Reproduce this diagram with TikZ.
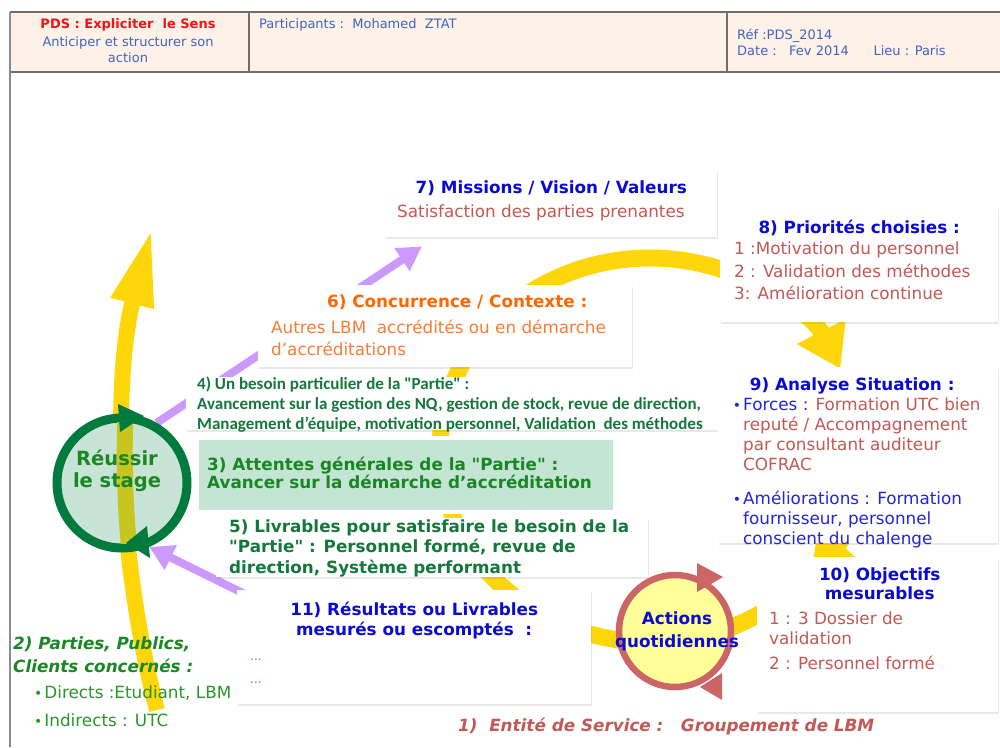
\documentclass[tikz,border=0pt]{standalone}
\usepackage{fontspec}
\setmainfont{DejaVu Sans}[Ligatures=TeXOff]
\newfontfamily\calib{Carlito}
\usetikzlibrary{positioning,arrows.meta,shadows,calc}

\definecolor{hdrfill}{RGB}{253,241,232}
\definecolor{hdrline}{RGB}{110,110,110}
\definecolor{hdrblue}{RGB}{64,100,190}
\definecolor{hdrred}{RGB}{240,20,20}
\definecolor{blueT}{RGB}{10,10,210}
\definecolor{blueB}{RGB}{35,35,225}
\definecolor{rose}{RGB}{195,88,84}
\definecolor{orangeT}{RGB}{255,102,0}
\definecolor{orangeB}{RGB}{245,125,55}
\definecolor{greenD}{RGB}{20,120,60}
\definecolor{greenM}{RGB}{25,135,35}
\definecolor{greenL}{RGB}{40,150,40}
\definecolor{attfill}{RGB}{196,228,212}
\definecolor{ringgreen}{RGB}{0,122,61}
\definecolor{stagefill}{RGB}{200,228,214}
\definecolor{bandolive}{RGB}{200,198,30}
\definecolor{gold}{RGB}{255,214,10}
\definecolor{lilac}{RGB}{204,153,255}
\definecolor{actred}{RGB}{204,102,102}
\definecolor{actfill}{RGB}{255,255,153}

\newcommand{\bull}{{\fontsize{14}{14}\selectfont •}\hspace{2pt}}
\newcommand{\stagepath}{(157,710) .. controls (118,560) and (112,380) .. (152,228)}

\pgfdeclarelayer{bg}
\pgfdeclarelayer{back}
\pgfsetlayers{bg,back,main}

\tikzset{
  card/.style={fill=white, anchor=north west, inner sep=0pt,
    drop shadow={shadow xshift=1pt,shadow yshift=-2pt,opacity=.18}},
  ttl/.style={font=\bfseries\fontsize{16.8}{20}\selectfont, text=blueT, inner sep=0pt, align=center, anchor=north},
  txt/.style={font=\fontsize{16.8}{20}\selectfont, inner sep=0pt, align=left, anchor=north west},
  hdr/.style={font=\fontsize{13}{16}\selectfont, text=hdrblue, inner sep=0pt},
  lilacarrow/.style={draw=lilac, line width=8pt, -{Triangle[length=24pt,width=26pt]}},
  ringarrow/.style={draw=gold, line width=17pt, -{Triangle[length=42pt,width=52pt]}},
  stagearrow/.style={draw=gold, line width=16pt, -{Triangle[length=78pt,width=40pt]}},
}

\begin{document}
\begin{tikzpicture}[x=1pt,y=-1pt]
\useasboundingbox (0,0) rectangle (1000,747);
\begin{pgfonlayer}{bg}
  \fill[white] (0,0) rectangle (1000,747);
\end{pgfonlayer}

% header
\fill[hdrfill] (10,12) rectangle (1000,72);
\draw[hdrline, line width=1.2pt] (10,12) -- (1000,12);
\draw[hdrline, line width=2pt] (10,72) -- (1000,72);
\draw[hdrline, line width=1.2pt] (249,12) -- (249,72);
\draw[hdrline, line width=1.2pt] (727,12) -- (727,72);
\draw[hdrline!80, line width=2pt] (10,12) -- (10,747);
\node[hdr, font=\bfseries\fontsize{13}{16}\selectfont, text=hdrred] (pds) at (128,25) {PDS : Expliciter\ \ le Sens};
\node[hdr, align=center] (antic) at (128,50) {Anticiper et structurer son\\action};
\node[hdr, anchor=west] (partic) at (259,25) {Participants :\ \ Mohamed\ \ ZTAT};
\node[hdr, anchor=west, align=left] (refdate) at (737,42) {Réf :PDS\_2014\\Date :\ \ \ Fev 2014\ \ \ \ \ \ Lieu : Paris};

% cards
\node[card, minimum width=332pt, minimum height=67pt] (box7) at (385,170) {};
\node[card, minimum width=374pt, minimum height=82pt] (box6) at (258,285) {};
\node[card, minimum width=278pt, minimum height=115pt] (box8) at (720,207) {};
\node[card, minimum width=532pt, minimum height=53pt] (box4) at (186,377) {};
\node[card, fill=attfill, draw=white, line width=4pt, minimum width=418pt, minimum height=74pt] (box3) at (195,436) {};
\node[card, minimum width=432pt, minimum height=59pt] (box5) at (216,518) {};
\node[card, minimum width=280pt, minimum height=176pt] (box9) at (718,367) {};
\node[card, minimum width=241pt, minimum height=155pt] (box10) at (757,557) {};
\node[card, minimum width=354pt, minimum height=114pt] (box11) at (237,590) {};

% arrows behind the cards
\begin{pgfonlayer}{back}
  \coordinate (ringc) at (650,450);
%  \draw[gold, line width=17pt] (ringc) ellipse [x radius=210, y radius=192];
  \draw[ringarrow] (ringc) ++(42:210 and 192) arc[start angle=42, end angle=335, x radius=210, y radius=192];
  \draw[ringarrow] (ringc) ++(340:210 and 192) arc[start angle=340, end angle=400, x radius=210, y radius=192];
  \draw[stagearrow] \stagepath;
\end{pgfonlayer}

% texts
\node[ttl, below=11pt of box7.north] (t7) {7) Missions / Vision / Valeurs};
\node[txt, text=rose, below right=35pt and 12pt of box7.north west] (b7) {Satisfaction des parties prenantes};

\node[ttl, below=13pt of box8.north] (t8) {8) Priorités choisies :};
\node[txt, text=rose, font=\fontsize{16.8}{22.5}\selectfont, below right=35pt and 14pt of box8.north west] (b8)
  {1 :Motivation du personnel\\2 : Validation des méthodes\\3: Amélioration continue};

\node[ttl, text=orangeT, below=10pt of box6.north, xshift=12pt] (t6) {6) Concurrence / Contexte :};
\node[txt, text=orangeB, font=\fontsize{16.8}{22}\selectfont, below right=35pt and 13pt of box6.north west] (b6)
  {Autres LBM\ \ accrédités ou en démarche\\d’accréditations};

\node[txt, text=greenD, font=\calib\bfseries\fontsize{17}{20}\selectfont, below right=0pt and 11pt of box4.north west] (b4)
  {4) Un besoin particulier de la "Partie" :\\Avancement sur la gestion des NQ, gestion de stock, revue de direction,\\Management d’équipe, motivation personnel, Validation\ \ des méthodes};

\node[txt, text=greenM, font=\bfseries\fontsize{16.8}{16}\selectfont, below right=21pt and 12pt of box3.north west] (b3)
  {3) Attentes générales de la "Partie" :\\Avancer sur la démarche d’accréditation};

\node[txt, text=greenD, font=\bfseries\fontsize{16.8}{20.5}\selectfont, below right=1.5pt and 13pt of box5.north west] (b5)
  {5) Livrables pour satisfaire le besoin de la\\"Partie" : Personnel formé, revue de\\direction, Système performant};

\node[ttl, below=11pt of box9.north, xshift=-6pt] (t9) {9) Analyse Situation :};
\node[txt, text=blueB, below right=31pt and 25pt of box9.north west] (b9)
  {\llap{\bull}Forces : \textcolor{rose}{Formation UTC bien}\\\textcolor{rose}{reputé / Accompagnement}\\\textcolor{rose}{par consultant auditeur}\\\textcolor{rose}{COFRAC}\\[14pt]\llap{\bull}Améliorations : Formation\\fournisseur, personnel\\conscient du chalenge};

\node[ttl, font=\bfseries\fontsize{16.8}{19}\selectfont, below=11pt of box10.north, xshift=2pt] (t10) {10) Objectifs\\mesurables};
\node[txt, text=rose, below right=55pt and 12pt of box10.north west] (b10)
  {1 : 3 Dossier de\\validation\\[5pt]2 : Personnel formé};

\node[ttl, below=12pt of box11.north] (t11) {11) Résultats ou Livrables\\mesurés ou escomptés\ \ :};
\node[anchor=base west, text=rose, font=\fontsize{12}{12}\selectfont, inner sep=0pt] (dots1) at ([xshift=13pt,yshift=-70pt]box11.north west) {...};
\node[anchor=base west, text=rose, font=\fontsize{12}{12}\selectfont, inner sep=0pt] (dots2) at ([xshift=13pt,yshift=-93pt]box11.north west) {...};

% Reussir le stage
\node[circle, draw=ringgreen, line width=9pt, fill=stagefill, minimum size=130pt, inner sep=0pt] (reussir) at (122,483) {};
\begin{scope}
  \clip (reussir.center) circle[radius=61pt];
  \draw[bandolive, line width=16pt] \stagepath;
\end{scope}
\node[font=\bfseries\fontsize{19.5}{22}\selectfont, text=greenM, align=center, inner sep=0pt] (reussirtxt)
  at ([xshift=-5pt,yshift=12pt]reussir.center) {Réussir\\le stage};
\fill[ringgreen] ($(reussir.center)+(-4,-79)$) -- ($(reussir.center)+(22,-67)$) -- ($(reussir.center)+(-2,-51)$) -- cycle;
\fill[ringgreen] ($(reussir.center)+(25,43)$) -- ($(reussir.center)+(28,75)$) -- ($(reussir.center)+(4,60)$) -- cycle;

% Actions quotidiennes
\node[circle, draw=actred, line width=6.5pt, fill=actfill, minimum size=112pt, inner sep=0pt] (actions) at (675,631) {};
\node[ttl, font=\bfseries\fontsize{16.8}{23}\selectfont, anchor=center, xshift=2pt] (actionstxt) at (actions.center) {Actions\\quotidiennes};
\fill[actred] ($(actions.center)+(22,-68)$) -- ($(actions.center)+(48,-54)$) -- ($(actions.center)+(22,-39)$) -- cycle;
\fill[actred] ($(actions.center)+(25,56)$) -- ($(actions.center)+(47,42)$) -- ($(actions.center)+(47,69)$) -- cycle;

% lilac connectors
\begin{pgfonlayer}{back}
  \coordinate (tip7) at ([xshift=37pt,yshift=-9pt]box7.south west);
  \coordinate (from11) at ([xshift=20pt,yshift=-10pt]box11.north west);
  \draw[lilacarrow] (reussir.60) -- (tip7);
  \draw[lilacarrow] (from11) -- (reussir.-67);
\end{pgfonlayer}

% bottom labels
\node[txt, text=greenM, font=\bfseries\itshape\fontsize{16.8}{23}\selectfont] (parties) at (13,637) {2) Parties, Publics,\\Clients concernés :};
\node[txt, text=greenL, font=\fontsize{16.8}{20}\selectfont] (publics) at (34,686) {\bull Directs :Etudiant, LBM\\[8pt]\bull Indirects : UTC};
\node[txt, text=rose, font=\bfseries\itshape\fontsize{16.8}{20}\selectfont] (entite) at (458,718) {1)\ \ Entité de Service :\ \ \ Groupement de LBM};
\end{tikzpicture}
\end{document}
